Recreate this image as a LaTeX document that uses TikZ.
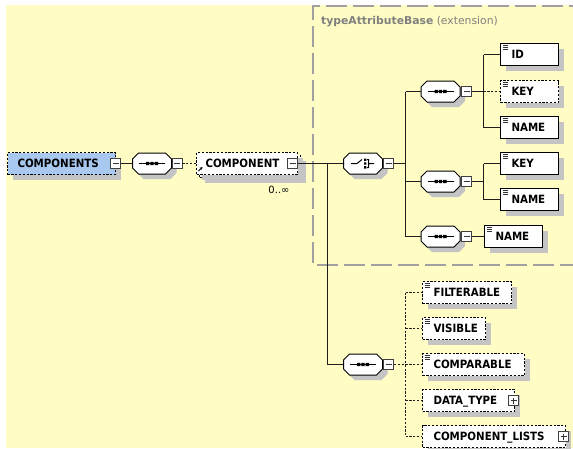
\documentclass[tikz,border=0pt]{standalone}
\usepackage{fontspec}
\setmainfont{DejaVu Sans}
\newfontfamily\condfam{DejaVu Sans Condensed}
\usetikzlibrary{shapes.misc,shadows,arrows.meta}
\definecolor{bgy}{RGB}{255,252,196}
\definecolor{extc}{RGB}{160,160,160}
\definecolor{lblc}{RGB}{128,128,128}
\definecolor{linec}{RGB}{30,30,30}
\definecolor{shadc}{RGB}{196,196,196}
\definecolor{compblue}{RGB}{168,200,240}
\newcommand\elfont{\condfam\bfseries\fontsize{11.4pt}{13pt}\selectfont}
\newcommand\lblfont{\fontsize{10.8pt}{12pt}\selectfont}
\newcommand\myattr[1]{\draw[black!80, line width=0.6pt, shift={(#1.north west)}] (2.5,2.5) -- (8,2.5) (2.5,4.5) -- (8,4.5) (2.5,6.5) -- (8,6.5);}
\newcommand\myoctpath{(-13.5,-10.5) -- (13.5,-10.5) -- (19.5,-4.5) -- (19.5,4.5) -- (13.5,10.5) -- (-13.5,10.5) -- (-19.5,4.5) -- (-19.5,-4.5) -- cycle}
\newcommand\myoct[3]{%
  \fill[shadc, shift={(#2+5,#3+5)}] \myoctpath;
  \node[octbox] (#1) at (#2,#3) {};
  \draw[black, fill=white, line width=1pt, shift={(#1.center)}] \myoctpath;}
\newcommand\myseqicon[1]{\draw[black, line width=1pt, shift={(#1.center)}] (-13,0) -- (13,0);
  \fill[black, shift={(#1.center)}] (-6,-1.6) rectangle (-2.6,1.6) (-1.7,-1.6) rectangle (1.7,1.6) (2.6,-1.6) rectangle (6,1.6);}
\newcommand\mychoiceicon[1]{\draw[black, line width=1pt, shift={(#1.center)}] (-12,0) -- (-6,0) -- (-1,-4) (4,-4) -- (5.5,-4) -- (5.5,4) -- (4,4) (5.5,0) -- (11,0);
  \fill[black, shift={(#1.center)}] (1,-5) rectangle (3.4,-2.6) (1,-1.2) rectangle (3.4,1.2) (1,2.6) rectangle (3.4,5);}
\tikzset{
  elem/.style={rectangle, draw=black, fill=white, line width=1pt, minimum height=22pt,
    inner sep=0pt, text width=#1pt, align=left, anchor=west, font=\elfont,
    text height=8.3pt, text depth=0pt,
    drop shadow={shadow xshift=5pt, shadow yshift=-5pt, fill=shadc, opacity=1}},
  optional/.style={dash pattern=on 2.2pt off 1.6pt},
  octbox/.style={rectangle, draw=none, fill=none, minimum width=39pt, minimum height=21pt, inner sep=0pt},
  tog/.style={rectangle, draw=black!75, fill=white, minimum size=10pt, inner sep=0pt, line width=0.8pt,
    path picture={\draw[black!80, line width=0.9pt] ([xshift=2pt]path picture bounding box.west) -- ([xshift=-2pt]path picture bounding box.east);}},
  togplus/.style={rectangle, draw=black!75, fill=white, minimum size=10pt, inner sep=0pt, line width=0.8pt,
    path picture={\draw[black!80, line width=0.9pt] ([xshift=2pt]path picture bounding box.west) -- ([xshift=-2pt]path picture bounding box.east)
      ([yshift=-2pt]path picture bounding box.north) -- ([yshift=2pt]path picture bounding box.south);}},
  conn/.style={draw=linec, line width=1.3pt},
}
\begin{document}
\begin{tikzpicture}[x=1pt,y=-1pt]
\useasboundingbox (0,0) rectangle (573,448);
\fill[white] (0,0) rectangle (573,448);
\fill[bgy] (6,5) rectangle (573,448);
% extension frame
\draw[extc, line width=2pt, dash pattern=on 21pt off 6pt] (590,6) -- (313,6) -- (313,265) -- (590,265);
\node[anchor=west, font=\lblfont, text=lblc, inner sep=0pt] (extlbl) at (321,22) {\textbf{typeAttributeBase} (extension)};

% root
\node[elem=108, fill=compblue, optional] (comps) at (7,163.5) {\hspace*{10pt}COMPONENTS};
\node[tog] (compsm) at (115.5,163.5) {};
\myoct{s0}{152}{163.5}
\myseqicon{s0}
\node[tog] (s0m) at (177,163.5) {};

% COMPONENT (multiple)
\node[elem=101, optional] (compback) at (199,166.5) {};
\node[elem=101, optional] (comp) at (196,163.5) {\hspace*{9pt}COMPONENT};
\node[tog] (compm) at (292.5,163.5) {};
\draw[black, line width=0.8pt, -{Stealth[length=2.8pt,width=2.8pt]}] (comp.south west) ++(2.5,-4) -- ++(4,-4);
\node[font=\fontsize{10pt}{12pt}\selectfont, inner sep=0pt] (occ) at (279,190) {0..∞};

% choice
\myoct{ch}{363}{163.5}
\mychoiceicon{ch}
\node[tog] (chm) at (388.5,163.5) {};

% sequences in extension
\myoct{s1}{440.5}{91.5}
\myseqicon{s1}
\node[tog] (s1m) at (466.5,91.5) {};
\myoct{s2}{440.5}{181.5}
\myseqicon{s2}
\node[tog] (s2m) at (466.5,181.5) {};
\myoct{s3}{440.5}{236.5}
\myseqicon{s3}
\node[tog] (s3m) at (466.5,236.5) {};

\node[elem=58] (id) at (500,54.5) {\hspace*{11pt}ID};
\myattr{id}
\node[elem=58, optional] (key1) at (500,91.5) {\hspace*{11pt}KEY};
\myattr{key1}
\node[elem=58] (name1) at (500,127.5) {\hspace*{11pt}NAME};
\myattr{name1}
\node[elem=58] (key2) at (500,163.5) {\hspace*{11pt}KEY};
\myattr{key2}
\node[elem=58] (name2) at (500,199.5) {\hspace*{11pt}NAME};
\myattr{name2}
\node[elem=58] (name3) at (484,236.5) {\hspace*{11pt}NAME};
\myattr{name3}

% bottom sequence
\myoct{s4}{363}{364.5}
\myseqicon{s4}
\node[tog] (s4m) at (388.5,364.5) {};
\node[elem=89, optional] (filt) at (422,292.5) {\hspace*{11pt}FILTERABLE};
\myattr{filt}
\node[elem=63, optional] (vis) at (422,328.5) {\hspace*{11pt}VISIBLE};
\myattr{vis}
\node[elem=102, optional] (compa) at (422,364.5) {\hspace*{11pt}COMPARABLE};
\myattr{compa}
\node[elem=92, optional] (dtype) at (422,400.5) {\hspace*{11pt}DATA\_TYPE};
\node[togplus] (dtypep) at (513.5,400.5) {};
\node[elem=143, optional] (clists) at (422,436.5) {\hspace*{11pt}COMPONENT\_LISTS};
\node[togplus] (clistsp) at (563.5,436.5) {};

% connectors
\coordinate (j1) at (327.5,163.5);
\coordinate (j2) at (405.5,163.5);
\coordinate (j3) at (483.5,91.5);
\coordinate (j4) at (483.5,181.5);
\coordinate (j5) at (405.5,364.5);
\draw[conn] (compsm.east) -- (s0.west);
\draw[conn, optional] (s0m.east) -- (comp.west);
\draw[conn] (compm.east) -- (ch.west);
\draw[conn] (j1) |- (s4.west);
\draw[conn] (chm.east) -- (j2);
\draw[conn] (s1.west -| j2) -- (s3.west -| j2);
\draw[conn] (s1.west -| j2) -- (s1.west);
\draw[conn] (s2.west -| j2) -- (s2.west);
\draw[conn] (s3.west -| j2) -- (s3.west);
\draw[conn] (s1m.east) -- (j3);
\draw[conn] (id.west -| j3) -- (name1.west -| j3);
\draw[conn] (id.west -| j3) -- (id.west);
\draw[conn] (name1.west -| j3) -- (name1.west);
\draw[conn, optional] (j3) -- (key1.west);
\draw[conn] (s2m.east) -- (j4);
\draw[conn] (key2.west -| j4) -- (name2.west -| j4);
\draw[conn] (key2.west -| j4) -- (key2.west);
\draw[conn] (name2.west -| j4) -- (name2.west);
\draw[conn] (s3m.east) -- (name3.west);
\draw[conn, optional] (s4m.east) -- (j5);
\draw[conn, optional] (filt.west -| j5) -- (clists.west -| j5);
\draw[conn, optional] (filt.west -| j5) -- (filt.west);
\draw[conn, optional] (vis.west -| j5) -- (vis.west);
\draw[conn, optional] (j5) -- (compa.west);
\draw[conn, optional] (dtype.west -| j5) -- (dtype.west);
\draw[conn, optional] (clists.west -| j5) -- (clists.west);
\end{tikzpicture}
\end{document}
